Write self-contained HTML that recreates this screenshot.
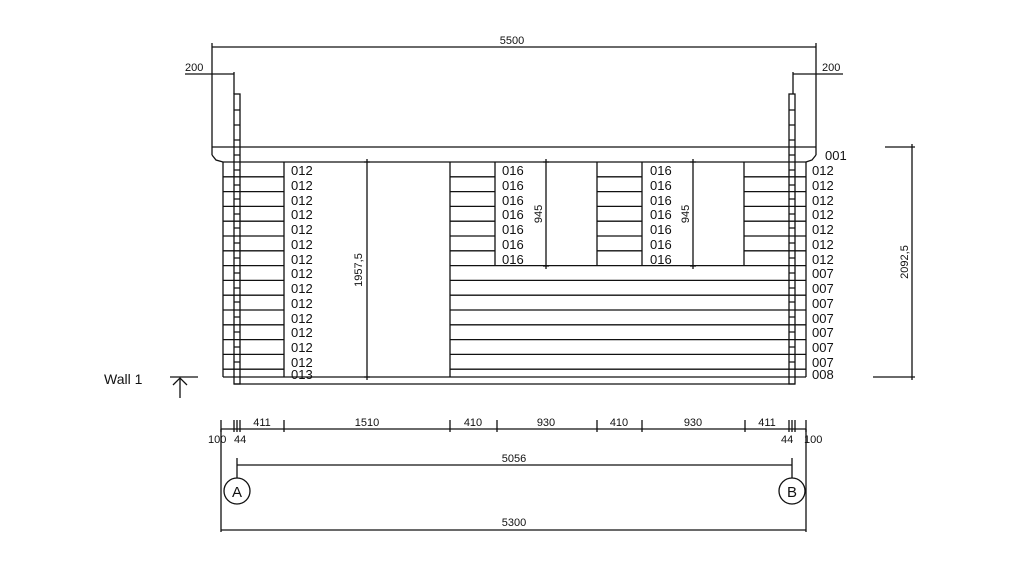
<!DOCTYPE html>
<html><head><style>html,body{margin:0;padding:0;background:#fff}svg{display:block}text{font-family:"Liberation Sans",sans-serif;font-size:13px;fill:#111}.s{font-size:11px}</style></head><body>
<svg width="1024" height="576" viewBox="0 0 1024 576" xmlns="http://www.w3.org/2000/svg">
<g stroke="#111" stroke-width="1.3" fill="none">
<!-- top dim -->
<line x1="212" y1="47" x2="816" y2="47"/>
<line x1="212" y1="43" x2="212" y2="155"/><line x1="816" y1="43" x2="816" y2="155"/>
<line x1="185" y1="74" x2="234" y2="74"/><line x1="234" y1="72" x2="234" y2="94"/>
<line x1="793" y1="74" x2="843" y2="74"/><line x1="793" y1="72" x2="793" y2="94"/>
<!-- roof -->
<path d="M212 155 L216 160 L223 162 M816 155 L812 160 L806 162"/>
<line x1="212" y1="147" x2="816" y2="147"/>
<line x1="223" y1="162" x2="806" y2="162"/>
<!-- posts -->
<rect x="234" y="94" width="6" height="290"/>
<rect x="789" y="94" width="6" height="290"/>
<!-- outer walls -->
<line x1="223" y1="162" x2="223" y2="377"/><line x1="806" y1="162" x2="806" y2="377"/>
<line x1="223" y1="377" x2="806" y2="377"/>
<line x1="234" y1="384" x2="795" y2="384"/>
<!-- openings -->
<line x1="284" y1="162" x2="284" y2="377"/>
<line x1="450" y1="162" x2="450" y2="377"/>
<line x1="495" y1="162" x2="495" y2="266"/>
<line x1="597" y1="162" x2="597" y2="266"/>
<line x1="642" y1="162" x2="642" y2="266"/>
<line x1="744" y1="162" x2="744" y2="266"/>
<!-- rows upper -->
<path d="M223 176.8H284M450 176.8H495M597 176.8H642M744 176.8H806
M223 191.6H284M450 191.6H495M597 191.6H642M744 191.6H806
M223 206.4H284M450 206.4H495M597 206.4H642M744 206.4H806
M223 221.2H284M450 221.2H495M597 221.2H642M744 221.2H806
M223 236H284M450 236H495M597 236H642M744 236H806
M223 250.8H284M450 250.8H495M597 250.8H642M744 250.8H806
M223 265.6H284M450 265.6H806
M223 280.4H284M450 280.4H806
M223 295.2H284M450 295.2H806
M223 310H284M450 310H806
M223 324.8H284M450 324.8H806
M223 339.6H284M450 339.6H806
M223 354.4H284M450 354.4H806
M223 369.2H284M450 369.2H806"/>
<!-- post ticks -->
<path d="M234 110h6M234 125h6M234 140h6M234 155h6M234 170h6M234 185h6M234 199h6M234 214h6M234 228h6M234 243h6M234 258h6M234 273h6M234 288h6M234 302h6M234 317h6M234 332h6M234 347h6M234 362h6
M789 110h6M789 125h6M789 140h6M789 155h6M789 170h6M789 185h6M789 199h6M789 214h6M789 228h6M789 243h6M789 258h6M789 273h6M789 288h6M789 302h6M789 317h6M789 332h6M789 347h6M789 362h6"/>
<!-- inner dims -->
<line x1="367" y1="159" x2="367" y2="380"/><path d="M364 162h6M364 377h6"/>
<line x1="546" y1="159" x2="546" y2="269"/><path d="M543 162h6M543 266h6"/>
<line x1="693" y1="159" x2="693" y2="269"/><path d="M690 162h6M690 266h6"/>
<!-- right height dim -->
<line x1="912" y1="144" x2="912" y2="380"/>
<line x1="885" y1="147" x2="915" y2="147"/><line x1="873" y1="377" x2="915" y2="377"/>
<!-- wall 1 arrow -->
<line x1="170" y1="377" x2="198" y2="377"/>
<line x1="180" y1="378" x2="180" y2="398"/><path d="M173 385L180 378L187 385"/>
<!-- bottom dims -->
<line x1="221" y1="429" x2="806" y2="429"/>
<path d="M221 420v12M234 420v12M237 420v12M240 420v12M284 420v12M450 420v12M497 420v12M597 420v12M642 420v12M745 420v12M789 420v12M792 420v12M795 420v12M806 420v12"/>
<line x1="221" y1="429" x2="221" y2="532"/><line x1="806" y1="429" x2="806" y2="532"/>
<line x1="237" y1="458" x2="237" y2="478"/><line x1="792" y1="458" x2="792" y2="478"/>
<line x1="237" y1="465" x2="792" y2="465"/>
<line x1="221" y1="530" x2="806" y2="530"/>
<circle cx="237" cy="491" r="13"/><circle cx="792" cy="491" r="13"/>
</g>
<text x="512" y="44" text-anchor="middle" class="s">5500</text>
<text x="185" y="71" class="s">200</text>
<text x="822" y="71" class="s">200</text>
<g>
<text x="291" y="175">012</text><text x="291" y="190">012</text><text x="291" y="205">012</text><text x="291" y="219">012</text><text x="291" y="234">012</text><text x="291" y="249">012</text><text x="291" y="264">012</text><text x="291" y="278">012</text><text x="291" y="293">012</text><text x="291" y="308">012</text><text x="291" y="323">012</text><text x="291" y="337">012</text><text x="291" y="352">012</text><text x="291" y="367">012</text><text x="291" y="379">013</text>
<text x="502" y="175">016</text><text x="502" y="190">016</text><text x="502" y="205">016</text><text x="502" y="219">016</text><text x="502" y="234">016</text><text x="502" y="249">016</text><text x="502" y="264">016</text>
<text x="650" y="175">016</text><text x="650" y="190">016</text><text x="650" y="205">016</text><text x="650" y="219">016</text><text x="650" y="234">016</text><text x="650" y="249">016</text><text x="650" y="264">016</text>
<text x="825" y="160">001</text>
<text x="812" y="175">012</text><text x="812" y="190">012</text><text x="812" y="205">012</text><text x="812" y="219">012</text><text x="812" y="234">012</text><text x="812" y="249">012</text><text x="812" y="264">012</text><text x="812" y="278">007</text><text x="812" y="293">007</text><text x="812" y="308">007</text><text x="812" y="323">007</text><text x="812" y="337">007</text><text x="812" y="352">007</text><text x="812" y="367">007</text><text x="812" y="379">008</text>
</g>
<text transform="translate(362 270) rotate(-90)" text-anchor="middle" class="s">1957,5</text>
<text transform="translate(542 214) rotate(-90)" text-anchor="middle" class="s">945</text>
<text transform="translate(689 214) rotate(-90)" text-anchor="middle" class="s">945</text>
<text transform="translate(908 262) rotate(-90)" text-anchor="middle" class="s">2092,5</text>
<text x="104" y="384" style="font-size:14px">Wall 1</text>
<g class="s">
<text x="262" y="426" text-anchor="middle" class="s">411</text>
<text x="367" y="426" text-anchor="middle" class="s">1510</text>
<text x="473" y="426" text-anchor="middle" class="s">410</text>
<text x="546" y="426" text-anchor="middle" class="s">930</text>
<text x="619" y="426" text-anchor="middle" class="s">410</text>
<text x="693" y="426" text-anchor="middle" class="s">930</text>
<text x="767" y="426" text-anchor="middle" class="s">411</text>
<text x="208" y="443" class="s">100</text><text x="234" y="443" class="s">44</text>
<text x="781" y="443" class="s">44</text><text x="804" y="443" class="s">100</text>
<text x="514" y="462" text-anchor="middle" class="s">5056</text>
<text x="514" y="526" text-anchor="middle" class="s">5300</text>
</g>
<text x="237" y="497" text-anchor="middle" style="font-size:15px">A</text>
<text x="792" y="497" text-anchor="middle" style="font-size:15px">B</text>
</svg>
</body></html>
